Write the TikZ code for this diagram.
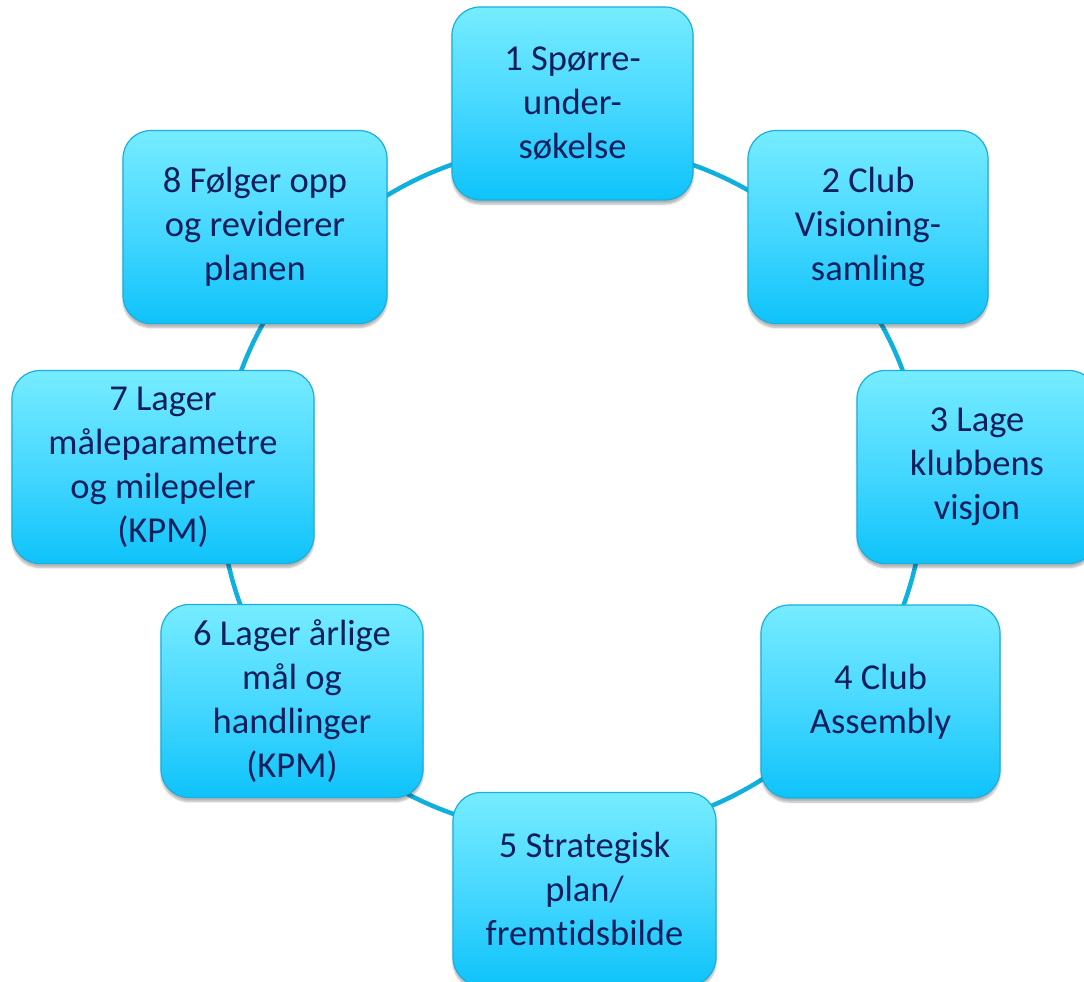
\documentclass[tikz,border=0pt]{standalone}
\usepackage{fontspec}
\setmainfont[Ligatures={NoCommon}]{Carlito}
\usetikzlibrary{shadows.blur}
\definecolor{boxtop}{RGB}{118,236,255}
\definecolor{boxmid}{RGB}{72,216,255}
\definecolor{boxbot}{RGB}{14,195,250}
\definecolor{boxline}{RGB}{27,174,222}
\definecolor{ringcol}{RGB}{16,176,222}
\definecolor{txtcol}{RGB}{12,30,92}
\tikzset{
  stagebox/.style={rounded corners=28pt, draw=boxline, line width=1.2pt,
    top color=boxtop, bottom color=boxbot, middle color=boxmid,
    minimum height=193pt, align=center, text=txtcol, inner sep=0pt,
    font=\fontsize{36.5}{44}\selectfont,
    blur shadow={shadow xshift=0pt, shadow yshift=-4pt, shadow blur steps=6, shadow opacity=30}},
  ring/.style={draw=ringcol, line width=4.5pt}
}
\begin{document}
\begin{tikzpicture}[x=1pt,y=-1pt]
\useasboundingbox (0,0) rectangle (1084,982);
\clip (0,0) rectangle (1084,982);
\coordinate (c) at (572,489);
\draw[ring] (c) ellipse [x radius=352pt, y radius=345pt];
\node[stagebox, minimum width=241pt] (n1) at (572.5,103.5) {1 Spørre-\\under-\\søkelse};
\node[stagebox, minimum width=240pt] (n2) at (868,227) {2 Club\\Visioning-\\samling};
\node[stagebox, minimum width=240pt] (n3) at (977,467) {3 Lage\\klubbens\\visjon};
\node[stagebox, minimum width=239pt] (n4) at (880.5,701.5) {4 Club\\Assembly};
\node[stagebox, minimum width=263pt] (n5) at (584.5,889) {5 Strategisk\\plan/\\fremtidsbilde};
\node[stagebox, minimum width=262pt] (n6) at (292,701) {6 Lager årlige\\mål og\\handlinger\\(KPM)};
\node[stagebox, minimum width=302pt] (n7) at (163,467) {7 Lager\\måleparametre\\og milepeler\\(KPM)};
\node[stagebox, minimum width=264pt] (n8) at (255,227) {8 Følger opp\\og reviderer\\planen};
\end{tikzpicture}
\end{document}
